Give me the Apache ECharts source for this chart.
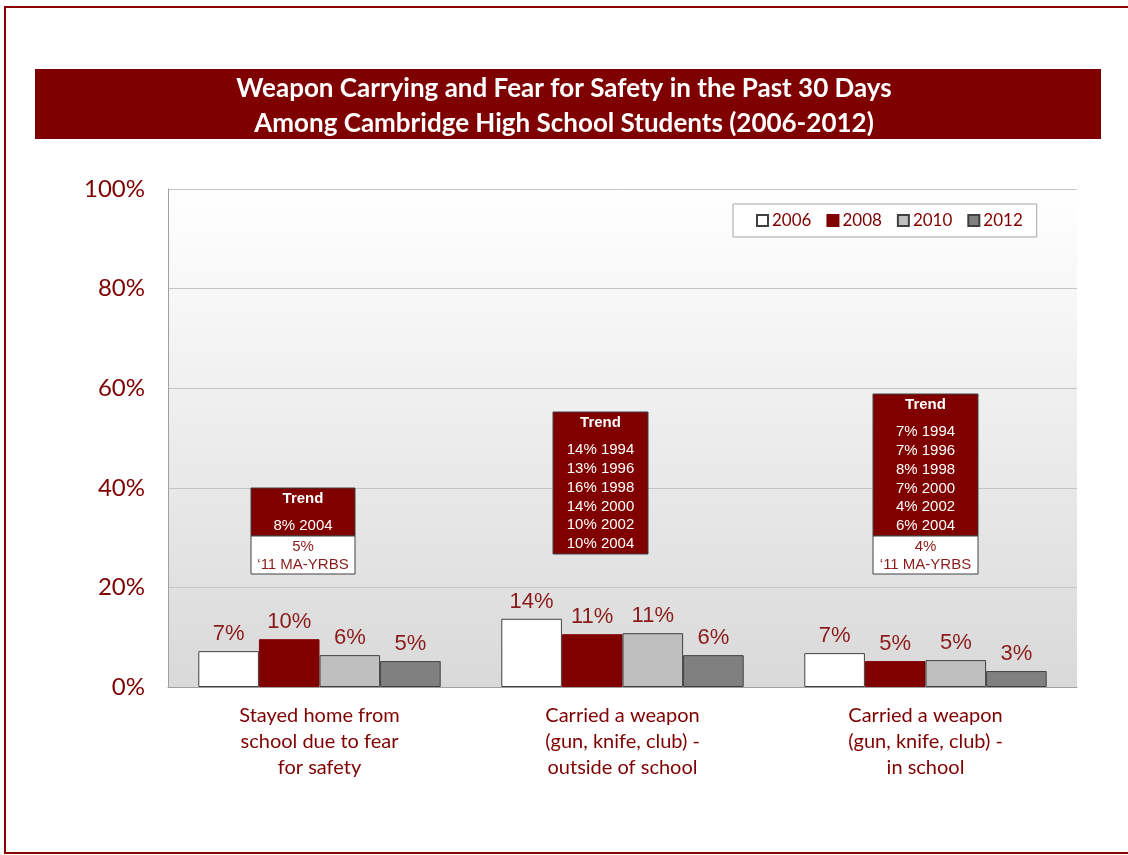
<!DOCTYPE html>
<html>
<head>
<meta charset="utf-8">
<script src="https://cdn.jsdelivr.net/npm/echarts@6/dist/echarts.min.js"></script>
<style>
  html, body { margin: 0; padding: 0; background: #fff; }
  #chart { width: 1128px; height: 855px; }
</style>
</head>
<body>
<div id="chart"></div>
<script>
const categories = [
  'Stayed home from\nschool due to fear\nfor safety',
  'Carried a weapon\n(gun, knife, club) -\noutside of school',
  'Carried a weapon\n(gun, knife, club) -\nin school'
]
const years = ['2006', '2008', '2010', '2012']
const values2006 = [7.2, 13.7, 6.8]
const values2008 = [9.6, 10.6, 5.2]
const values2010 = [6.4, 10.8, 5.4]
const values2012 = [5.2, 6.4, 3.2]
const yTicks = [0, 20, 40, 60, 80, 100]

// trend boxes: top of box in % units, dark lines, white (state) lines
const trendTops = [40, 55.2, 58.8]
const trendLines = [
  ['8% 2004'],
  ['14% 1994', '13% 1996', '16% 1998', '14% 2000', '10% 2002', '10% 2004'],
  ['7% 1994', '7% 1996', '8% 1998', '7% 2000', '4% 2002', '6% 2004']
]
const stateLines = [
  ['5%', '\u201811 MA-YRBS'],
  [],
  ['4%', '\u201811 MA-YRBS']
]

const red = '#7f0000'
const font = 'Lato, "Open Sans", sans-serif'
const arial = '"Liberation Sans", Arial, sans-serif'

const seriesData = [values2006, values2008, values2010, values2012]
const seriesStyle = [
  { color: '#ffffff', borderColor: '#404040', borderWidth: 1 },
  { color: '#800000', borderColor: '#800000', borderWidth: 1 },
  { color: '#bfbfbf', borderColor: '#404040', borderWidth: 1 },
  { color: '#808080', borderColor: '#404040', borderWidth: 1 }
]

const chart = echarts.init(document.getElementById('chart'))

const option = {
  animation: false,
  backgroundColor: '#ffffff',
  title: {
    text: 'Weapon Carrying and Fear for Safety in the Past 30 Days\nAmong Cambridge High School Students (2006-2012)',
    left: 'center',
    top: 66,
    textStyle: {
      color: '#ffffff',
      fontFamily: font,
      fontWeight: 'bold',
      fontSize: 26,
      lineHeight: 35
    },
    z: 10
  },
  legend: {
    data: years,
    left: 733,
    top: 204,
    backgroundColor: '#ffffff',
    borderColor: '#a6a6a6',
    borderWidth: 1,
    padding: [8, 14, 8, 23],
    itemWidth: 11,
    itemHeight: 11,
    itemGap: 15,
    icon: 'rect',
    textStyle: { color: red, fontFamily: font, fontSize: 17, padding: [0, 0, 0, -1] }
  },
  grid: {
    left: 168,
    right: 51,
    top: 189,
    bottom: 168,
    show: true,
    borderWidth: 0,
    backgroundColor: new echarts.graphic.LinearGradient(0, 0, 0, 1, [
      { offset: 0, color: '#ffffff' },
      { offset: 1, color: '#d9d9d9' }
    ])
  },
  xAxis: {
    type: 'category',
    data: categories,
    axisLine: { lineStyle: { color: '#a0a0a0' } },
    axisTick: { show: false },
    axisLabel: {
      color: red,
      fontFamily: font,
      fontSize: 20,
      lineHeight: 26,
      margin: 16
    }
  },
  yAxis: {
    type: 'value',
    min: 0,
    max: 100,
    interval: 20,
    axisLine: { show: true, lineStyle: { color: '#a0a0a0' } },
    axisTick: { show: false },
    splitLine: { lineStyle: { color: '#c4c4c4' } },
    axisLabel: {
      color: red,
      fontFamily: font,
      fontSize: 24,
      margin: 23,
      formatter: v => (yTicks.includes(v) ? v + '%' : '')
    }
  },
  series: years.map((y, i) => ({
    name: y,
    type: 'bar',
    data: seriesData[i],
    barGap: 0,
    barCategoryGap: '20%',
    itemStyle: seriesStyle[i],
    label: {
      show: true,
      position: 'top',
      distance: 6,
      color: '#8b1a1a',
      fontFamily: arial,
      fontSize: 22,
      formatter: p => Math.round(p.value) + '%'
    }
  }))
}

chart.setOption(option)

// static frame and title band
const graphics = [
  {
    type: 'rect',
    shape: { x: 5, y: 7, width: 1130, height: 846 },
    style: { fill: 'none', stroke: '#8b0000', lineWidth: 2 },
    z: 0,
    silent: true
  },
  {
    type: 'rect',
    shape: { x: 35, y: 69, width: 1066, height: 70 },
    style: { fill: '#7f0000' },
    z: 1,
    silent: true
  }
]

// trend boxes anchored to category centres
const boxWidths = [104, 95, 105]
const boxShift = [-16.5, -22, 0]
const lineH = 18.8
trendLines.forEach((lines, i) => {
  const [cx, topPx] = chart.convertToPixel({ xAxisIndex: 0, yAxisIndex: 0 }, [i, trendTops[i]])
  const top = Math.round(topPx)
  const w = boxWidths[i]
  const x = Math.round(cx + boxShift[i] - w / 2)
  const darkH = Math.round(48 + (lines.length - 1) * lineH)
  graphics.push({
    type: 'rect',
    shape: { x: x, y: top, width: w, height: darkH },
    style: { fill: '#800000', stroke: '#404040', lineWidth: 1 },
    z: 20
  })
  graphics.push({
    type: 'text',
    x: x + w / 2,
    y: top + 11,
    style: {
      text: 'Trend',
      fill: '#ffffff',
      font: 'bold 15px ' + arial,
      align: 'center',
      verticalAlign: 'middle'
    },
    z: 21
  })
  lines.forEach((t, k) => {
    graphics.push({
      type: 'text',
      x: x + w / 2,
      y: top + 38 + k * lineH,
      style: {
        text: t,
        fill: '#ffffff',
        font: '15px ' + arial,
        align: 'center',
        verticalAlign: 'middle'
      },
      z: 21
    })
  })
  if (stateLines[i].length) {
    const sy = top + darkH
    graphics.push({
      type: 'rect',
      shape: { x: x, y: sy, width: w, height: 38 },
      style: { fill: '#ffffff', stroke: '#404040', lineWidth: 1 },
      z: 20
    })
    stateLines[i].forEach((t, k) => {
      graphics.push({
        type: 'text',
        x: x + w / 2,
        y: sy + 11 + k * 18,
        style: {
          text: t,
          fill: '#8b1a1a',
          font: '15px ' + arial,
          align: 'center',
          verticalAlign: 'middle'
        },
        z: 21
      })
    })
  }
})

chart.setOption({ graphic: graphics })
</script>
</body>
</html>
